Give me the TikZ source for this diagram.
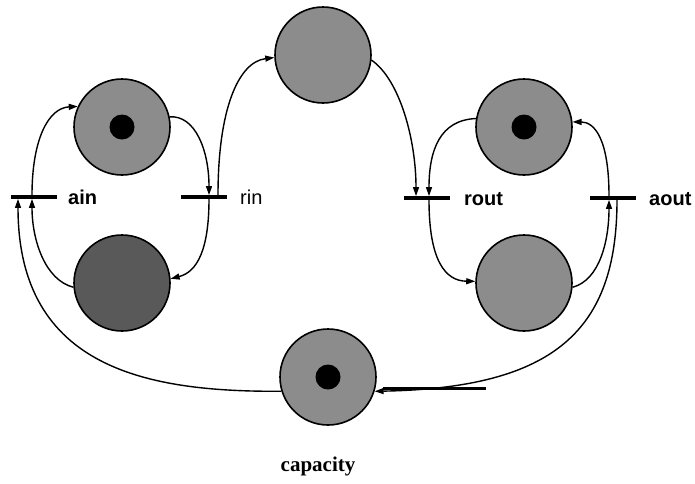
\documentclass[tikz,border=0pt]{standalone}
\usepackage{fontspec}
\setmainfont{Liberation Serif}
\newfontfamily\hsans{Liberation Sans}
\usetikzlibrary{arrows.meta}
\tikzset{
  place/.style={circle,draw,line width=1.6pt,minimum size=96pt,inner sep=0pt,fill=black!45},
  darkplace/.style={place,fill=black!65},
  token/.style={circle,fill=black,minimum size=25pt,inner sep=0pt},
  trans/.style={rectangle,fill=black,minimum width=46pt,minimum height=3.4pt,inner sep=0pt},
  arc/.style={line width=1.4pt,-{Triangle[length=9pt,width=6pt]}},
  tlabel/.style={font=\hsans\bfseries\fontsize{20}{24}\selectfont,anchor=base west,inner sep=0pt},
  rlabel/.style={font=\hsans\fontsize{20}{24}\selectfont,anchor=base west,inner sep=0pt}
}
\begin{document}
\begin{tikzpicture}[x=1pt,y=-1pt]
\useasboundingbox (0,0) rectangle (695,483);
% places
\node[place] (p1) at (122,127) {};
\node[darkplace] (p2) at (122,283) {};
\node[place] (p3) at (323,55) {};
\node[place] (p4) at (524,127) {};
\node[place] (p5) at (524,283) {};
\node[place] (cap) at (328,377) {};
\node[token] (t1) at (p1.center) {};
\node[token] (t4) at (p4.center) {};
\node[token] (t6) at (cap.center) {};
% transitions
\node[trans] (ain) at (34,197) {};
\node[trans] (rin) at (204,197) {};
\node[trans] (rout) at (427,198) {};
\node[trans] (aout) at (613,198) {};
% labels
\node[tlabel] (lain) at (68,204) {ain};
\node[rlabel] (lrin) at (240,204) {rin};
\node[tlabel] (lrout) at (464,205) {rout};
\node[tlabel] (laout) at (649,205) {aout};
\node[font=\bfseries\fontsize{21}{25}\selectfont,anchor=base,inner sep=0pt] (lcap) at (318,471) {capacity};
% left loop
\draw[arc] ([xshift=-2pt]ain.north) .. controls (32,140) and (48,108) .. (p1.155);
\draw[arc] (p1.12) .. controls (195,115) and (209,150) .. ([xshift=5pt]rin.north);
\draw[arc] ([xshift=5pt]rin.south) .. controls (209,250) and (197,272) .. (p2.5);
\draw[arc] (p2.185) .. controls (45,280) and (32,240) .. ([xshift=-2pt]ain.south);
\draw[arc] (cap.197) .. controls (150,392) and (18,370) .. ([xshift=-16pt]ain.south);
% middle
\draw[arc] ([xshift=14pt]rin.north) .. controls (218,110) and (238,62) .. (p3.183);
\draw[arc] (p3.-6) .. controls (400,80) and (416,140) .. ([xshift=-11pt]rout.north);
% right loop
\draw[arc] (p4.170) .. controls (440,120) and (429,150) .. ([xshift=2pt]rout.north);
\draw[arc] ([xshift=2pt]rout.south) .. controls (429,260) and (445,281) .. (p5.178);
\draw[arc] (p5.-5) .. controls (600,280) and (609,240) .. ([xshift=-4pt]aout.south);
\draw[arc] ([xshift=-4pt]aout.north) .. controls (609,140) and (595,122) .. (p4.6);
\draw[arc] ([xshift=4pt]aout.south) .. controls (617,330) and (555,388) .. (cap.-17);
% thick stub
\coordinate (stubA) at (383,388);
\coordinate (stubB) at (486,388);
\draw[line width=3pt] (stubA) -- (stubB);
\end{tikzpicture}
\end{document}
